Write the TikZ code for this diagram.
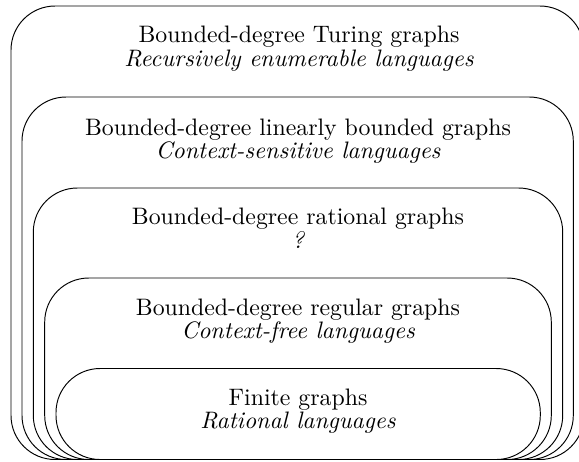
\documentclass[tikz,border=0pt]{standalone}
\begin{document}
\begin{tikzpicture}[x=0.42pt,y=-0.42pt,
  box/.style={draw, line width=0.4pt, rounded corners=18.5pt},
  lbl/.style={inner sep=0pt, anchor=base, font=\fontsize{10}{10}\selectfont},
  sub/.style={lbl, font=\fontsize{10}{10}\selectfont\itshape}]
\clip (0,0) rectangle (579,461);
\draw[box] (11,6) rectangle (584,459.5);
\draw[box] (22,97) rectangle (573.3,459.5);
\draw[box] (33.3,188) rectangle (562.7,459.5);
\draw[box] (44.7,278) rectangle (551.3,459.5);
\draw[box] (56,368.5) rectangle (540.3,459.5);
\node[lbl] (t1) at (299,42.7) {Bounded-degree Turing graphs};
\node[sub] (s1) at (299,66.5) {Recursively enumerable languages};
\node[lbl] (t2) at (298,135) {Bounded-degree linearly bounded graphs};
\node[sub] (s2) at (298,158) {Context-sensitive languages};
\node[lbl] (t3) at (298,224.5) {Bounded-degree rational graphs};
\node[sub] (s3) at (298,248) {?};
\node[lbl] (t4) at (298,315) {Bounded-degree regular graphs};
\node[sub] (s4) at (298,338.5) {Context-free languages};
\node[lbl] (t5) at (298,405) {Finite graphs};
\node[sub] (s5) at (298,428.5) {Rational languages};
\end{tikzpicture}
\end{document}
